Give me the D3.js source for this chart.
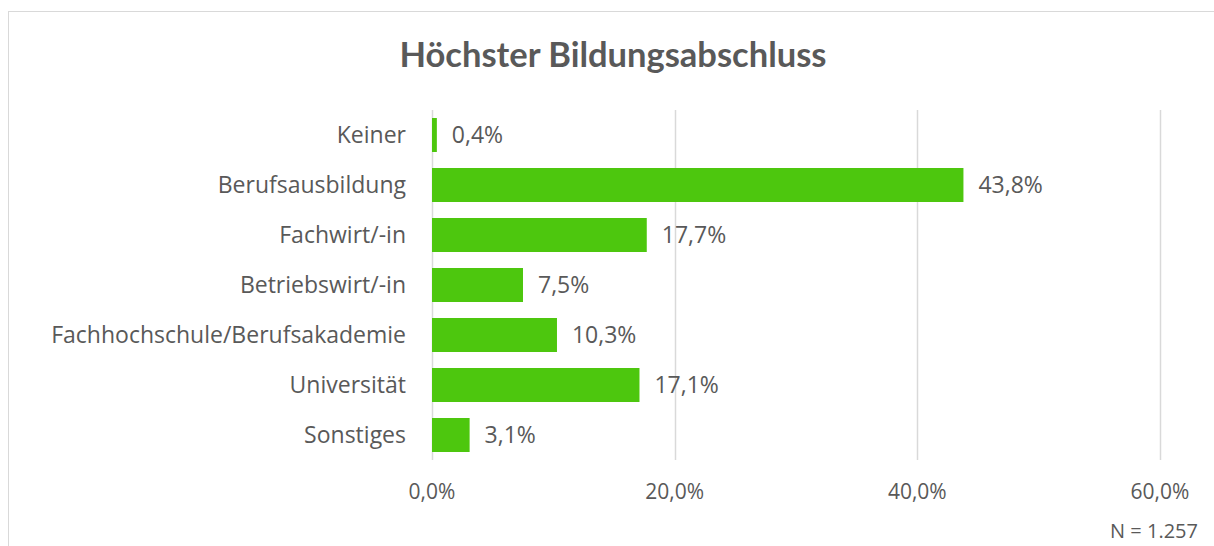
<!DOCTYPE html>
<html>
<head>
<meta charset="utf-8">
<script src="https://cdn.jsdelivr.net/npm/d3@7"></script>
<style>
  body { margin: 0; background: #fff; }
  svg { display: block; font-family: "Open Sans", Lato, sans-serif; }
</style>
</head>
<body>
<svg id="chart" width="1214" height="546"></svg>
<script>
const categories = ['Keiner', 'Berufsausbildung', 'Fachwirt/-in', 'Betriebswirt/-in',
  'Fachhochschule/Berufsakademie', 'Universität', 'Sonstiges'];
const values = [0.4, 43.8, 17.7, 7.5, 10.3, 17.1, 3.1];
const xTicks = [0, 20, 40, 60];
const title = 'Höchster Bildungsabschluss';
const note = 'N = 1.257';

const svg = d3.select('#chart');
const textColor = '#595959';
const gridColor = '#d9d9d9';
const fmt = v => d3.format('.1f')(v).replace('.', ',') + '%';

// outer chart frame (cut off at the right and bottom like the screenshot)
svg.append('rect')
  .attr('x', 8.5).attr('y', 11.5)
  .attr('width', 1300).attr('height', 600)
  .attr('fill', 'none').attr('stroke', gridColor);

const x = d3.scaleLinear().domain([0, 60]).range([432, 1160]);
const y = d3.scaleBand().domain(categories).range([110, 460]).paddingInner(0.32).paddingOuter(0.16);

svg.append('text')
  .attr('x', 613).attr('y', 67)
  .attr('text-anchor', 'middle')
  .attr('font-family', 'Lato, sans-serif')
  .attr('font-size', 34.5).attr('font-weight', 'bold')
  .attr('fill', textColor)
  .text(title);

// gridlines
svg.append('g')
  .selectAll('line')
  .data(xTicks)
  .join('line')
  .attr('x1', d => Math.round(x(d)) + 0.5).attr('x2', d => Math.round(x(d)) + 0.5)
  .attr('y1', 110).attr('y2', 460)
  .attr('stroke', gridColor).attr('stroke-width', 1.5);

// x tick labels
svg.append('g')
  .selectAll('text')
  .data(xTicks)
  .join('text')
  .attr('x', d => x(d)).attr('y', 499)
  .attr('text-anchor', 'middle')
  .attr('font-size', 21)
  .attr('fill', textColor)
  .text(fmt);

// bars
svg.append('g')
  .selectAll('rect')
  .data(values)
  .join('rect')
  .attr('x', x(0))
  .attr('y', (d, i) => y(categories[i]))
  .attr('width', d => x(d) - x(0))
  .attr('height', y.bandwidth())
  .attr('fill', '#4dc70e');

// value labels
svg.append('g')
  .selectAll('text')
  .data(values)
  .join('text')
  .attr('x', d => x(d) + 15)
  .attr('y', (d, i) => y(categories[i]) + y.bandwidth() / 2)
  .attr('dy', '0.35em')
  .attr('font-size', 23)
  .attr('fill', textColor)
  .text(fmt);

// category labels
svg.append('g')
  .selectAll('text')
  .data(categories)
  .join('text')
  .attr('x', 406)
  .attr('y', d => y(d) + y.bandwidth() / 2)
  .attr('dy', '0.35em')
  .attr('text-anchor', 'end')
  .attr('font-size', 23)
  .attr('fill', textColor)
  .text(d => d);

svg.append('text')
  .attr('x', 1198).attr('y', 538)
  .attr('text-anchor', 'end')
  .attr('font-size', 20)
  .attr('fill', textColor)
  .text(note);
</script>
</body>
</html>
